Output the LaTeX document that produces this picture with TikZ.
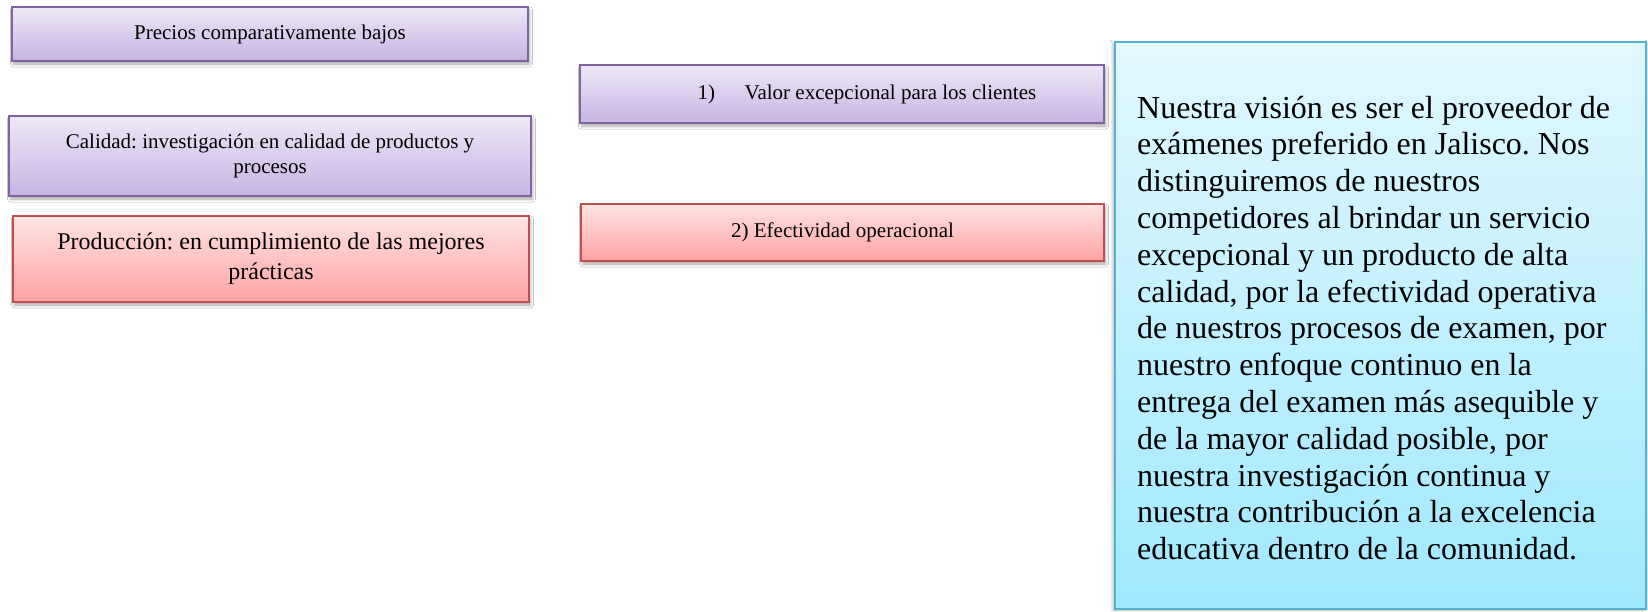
\documentclass[tikz,border=0pt]{standalone}
\usepackage{fontspec}
\setmainfont{Liberation Serif}
\usetikzlibrary{shadows.blur}
\frenchspacing

\definecolor{violetTop}{HTML}{EEE8F7}
\definecolor{violetBottom}{HTML}{C7B3E3}
\definecolor{violetEdge}{HTML}{8064A2}
\definecolor{roseTop}{HTML}{FFE3E3}
\definecolor{roseBottom}{HTML}{FFA3A3}
\definecolor{roseEdge}{HTML}{C0504D}
\definecolor{skyTop}{HTML}{E2F8FE}
\definecolor{skyBottom}{HTML}{A0E9FF}
\definecolor{skyEdge}{HTML}{52B2CF}

\tikzset{
  card/.style={draw, line width=1.6pt, inner sep=0pt, align=center,
    blur shadow={shadow xshift=1.5pt, shadow yshift=-3pt,
      shadow blur steps=6, shadow blur radius=3pt, shadow opacity=35}},
  violet card/.style={card, draw=violetEdge, top color=violetTop, bottom color=violetBottom,
    font=\fontsize{21}{25}\selectfont},
  rose card/.style={card, draw=roseEdge, top color=roseTop, bottom color=roseBottom,
    font=\fontsize{21}{25}\selectfont},
  vision card/.style={draw=skyEdge, line width=1.6pt, inner sep=0pt,
    top color=skyTop, bottom color=skyBottom,
    blur shadow={shadow xshift=-2pt, shadow yshift=-1pt,
      shadow blur steps=6, shadow blur radius=3pt, shadow opacity=30}},
  vision text/.style={anchor=base west, inner sep=0pt,
    font=\fontsize{32}{36.8}\selectfont}
}

\begin{document}
\begin{tikzpicture}[x=1pt,y=-1pt]
\useasboundingbox (0,0) rectangle (1648,611);
\fill[white] (0,0) rectangle (1648,611);

% left column
\node[violet card, minimum width=516pt, minimum height=54pt] (precios) at (270,34)
  {Precios comparativamente bajos};
\node[violet card, minimum width=522pt, minimum height=80pt] (calidad) at (270,156)
  {Calidad: investigación en calidad de productos y\\procesos};
\node[rose card, minimum width=516pt, minimum height=86pt,
      font=\fontsize{24}{30}\selectfont] (produccion) at (271,259)
  {Producción: en cumplimiento de las mejores\\prácticas};

% middle column
\node[violet card, minimum width=524pt, minimum height=58pt] (valor) at (842,94)
  {\hspace*{50pt}1)\hspace{29.5pt}Valor excepcional para los clientes};
\node[rose card, minimum width=523pt, minimum height=57pt] (efectividad) at (842.5,232.5)
  {2) Efectividad operacional};

% vision statement
\node[vision card, minimum width=531pt, minimum height=567pt] (vision) at (1380.5,325.5) {};
\node[vision text] (visiontext) at (1137,118) {\parbox[t]{505pt}{\raggedright
Nuestra visión es ser el proveedor de\\
exámenes preferido en Jalisco. Nos\\
distinguiremos de nuestros\\
competidores al brindar un servicio\\
excepcional y un producto de alta\\
calidad, por la efectividad operativa\\
de nuestros procesos de examen, por\\
nuestro enfoque continuo en la\\
entrega del examen más asequible y\\
de la mayor calidad posible, por\\
nuestra investigación continua y\\
nuestra contribución a la excelencia\\
educativa dentro de la comunidad.}};
\end{tikzpicture}
\end{document}
